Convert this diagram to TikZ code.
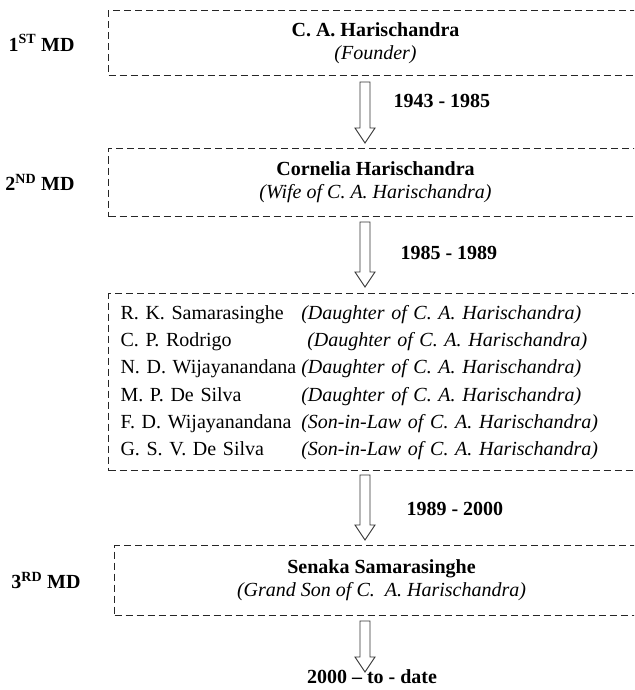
\documentclass[tikz,border=0pt]{standalone}
\usepackage{fontspec}
\setmainfont{Liberation Serif}
\usetikzlibrary{positioning, calc}

\newcommand{\blockarrow}[2]{%
  \draw[hollowarrow] let \p1=(#1), \p2=(#2) in
    (\x1-5pt,\y1) -- (\x1+5pt,\y1) -- (\x1+5pt,\y2+15pt) -- (\x1+10pt,\y2+15pt)
    -- (\x1,\y2) -- (\x1-10pt,\y2+15pt) -- (\x1-5pt,\y2+15pt) -- cycle;}

\begin{document}
\begin{tikzpicture}[x=1pt, y=-1pt,
    box/.style={draw=black!85, line width=1pt, dash pattern=on 7pt off 4pt, minimum width=534pt, align=center, inner sep=0pt, font=\fontsize{20}{23}\selectfont},
    mdlabel/.style={font=\fontsize{20}{24}\selectfont\bfseries},
    period/.style={font=\fontsize{20}{24}\selectfont\bfseries, anchor=west},
    hollowarrow/.style={draw=black!80, line width=0.9pt, fill=white}
]
    \useasboundingbox (0,0) rectangle (634,690);
    \clip (0,0) rectangle (634,690);

    \node[box, minimum height=65pt, anchor=north west] (b1) at (108,10) {\textbf{C. A. Harischandra}\\\textit{(Founder)}};
    \node[box, minimum height=68pt, below=72pt of b1] (b2) {\textbf{Cornelia Harischandra}\\\textit{(Wife of C. A. Harischandra)}};
    \node[box, minimum height=177pt, below=76pt of b2, text width=510pt, align=left, font=\fontsize{20}{27.3}\selectfont] (b3) {%
        \begin{tabular}{@{}l@{\hspace{5pt}}l@{}}
        R. K. Samarasinghe & \textit{(Daughter of C. A. Harischandra)}\\
        C. P. Rodrigo & \textit{\hspace{6pt}(Daughter of C. A. Harischandra)}\\
        N. D. Wijayanandana & \textit{(Daughter of C. A. Harischandra)}\\
        M. P. De Silva & \textit{(Daughter of C. A. Harischandra)}\\
        F. D. Wijayanandana & \textit{(Son-in-Law of C. A. Harischandra)}\\
        G. S. V. De Silva & \textit{(Son-in-Law of C. A. Harischandra)}
        \end{tabular}};
    \node[box, minimum height=70pt, below=74pt of b3, xshift=6pt] (b4) {\textbf{Senaka Samarasinghe}\\\textit{(Grand Son of C.\ \ A. Harischandra)}};

    % managing directors
    \node[mdlabel, left=30pt of b1] (md1) {1\textsuperscript{ST} MD};
    \node[mdlabel, left=30pt of b2] (md2) {2\textsuperscript{ND} MD};
    \node[mdlabel, left=30pt of b4] (md3) {3\textsuperscript{RD} MD};

    % periods
    \node[period] (p1) at (390,101) {1943 - 1985};
    \node[period] (p2) at (397,253) {1985 - 1989};
    \node[period] (p3) at (403,509) {1989 - 2000};
    \node[period, anchor=center] (now) at (372,677) {2000 – to - date};

    \coordinate (ax) at (365,0);
    \coordinate (a1s) at ($(b1.south -| ax)+(0,6)$);
    \coordinate (a1e) at ($(b2.north -| ax)+(0,-5)$);
    \coordinate (a2s) at ($(b2.south -| ax)+(0,5)$);
    \coordinate (a2e) at ($(b3.north -| ax)+(0,-6)$);
    \coordinate (a3s) at ($(b3.south -| ax)+(0,4)$);
    \coordinate (a3e) at ($(b4.north -| ax)+(0,-5)$);
    \coordinate (a4s) at ($(b4.south -| ax)+(0,5)$);
    \coordinate (a4e) at ($(b4.south -| ax)+(0,56)$);
    \blockarrow{a1s}{a1e}
    \blockarrow{a2s}{a2e}
    \blockarrow{a3s}{a3e}
    \blockarrow{a4s}{a4e}
\end{tikzpicture}
\end{document}
